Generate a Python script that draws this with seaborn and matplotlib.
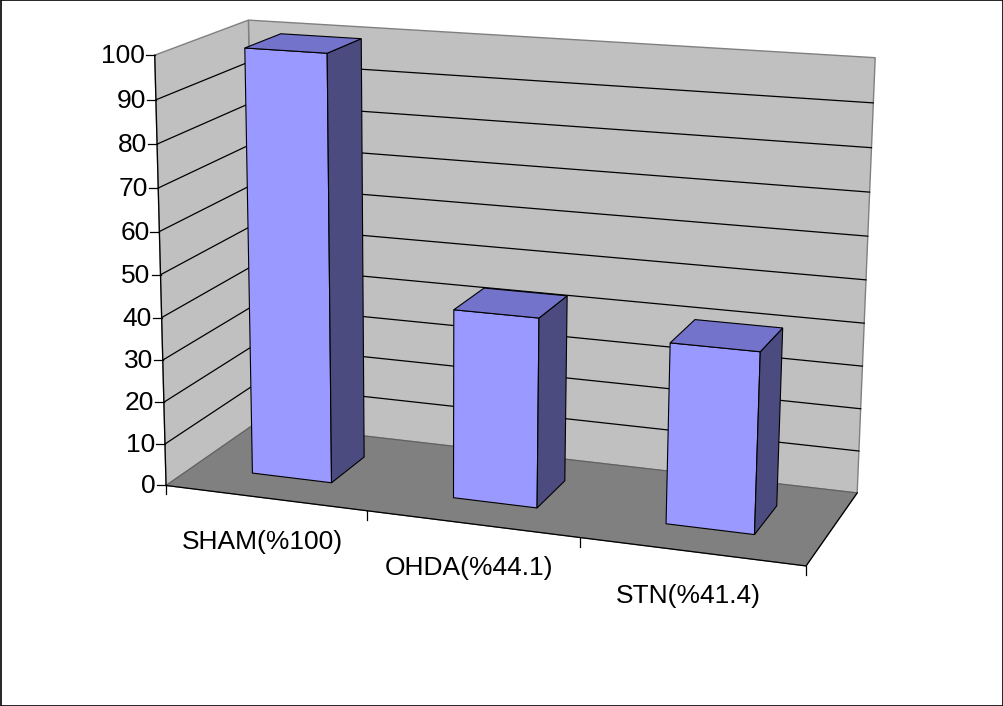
import numpy as np
import pandas as pd
import matplotlib
matplotlib.use("Agg")
import matplotlib.pyplot as plt
import seaborn as sns
from matplotlib.transforms import Transform
from matplotlib.patches import Polygon, Rectangle
from matplotlib.lines import Line2D

# ---------------- data ----------------
categories = ["SHAM(%100)", "OHDA(%44.1)", "STN(%41.4)"]
values = [100, 44.1, 41.4]
yticks = [0, 10, 20, 30, 40, 50, 60, 70, 80, 90, 100]

# ---------------- style ----------------
FRONT = "#9999FF"
SIDE = "#4B4B80"
TOP = "#7373CC"
WALL = "#C0C0C0"
FLOOR = "#808080"
FONT = "Liberation Sans"
FS = 19

# ---------------- camera (3D frame anchors -> pixels) ----------------
# world: X = category axis (-0.5 .. 2.5), Y = value (0..100), Z = depth (0 front .. 1 back)
frame_world = np.array([[-0.5, 0, 0], [2.5, 0, 0], [2.5, 0, 1], [-0.5, 0, 1],
                        [-0.5, 100, 0], [-0.5, 100, 1], [2.5, 100, 1]], float)
frame_pix = np.array([[169.3, 484], [805.7, 567.7], [858, 491], [252, 425],
                      [151.7, 55], [251.7, 20], [874.7, 58]], float)


def fit_camera(W, U):
    rows = []
    for (X, Y, Z), (u, v) in zip(W, U / 1000.0):
        Y = Y / 100.0
        rows.append([X, Y, Z, 1, 0, 0, 0, 0, -u * X, -u * Y, -u * Z, -u])
        rows.append([0, 0, 0, 0, X, Y, Z, 1, -v * X, -v * Y, -v * Z, -v])
    _, _, vt = np.linalg.svd(np.array(rows))
    return vt[-1].reshape(3, 4)


P = fit_camera(frame_world, frame_pix)


def project(X, Y, Z):
    X, Y, Z = np.broadcast_arrays(np.asarray(X, float), np.asarray(Y, float) / 100.0,
                                  np.asarray(Z, float))
    h = P @ np.vstack([X.ravel(), Y.ravel(), Z.ravel(), np.ones(X.size)])
    u = (h[0] / h[2] * 1000).reshape(X.shape)
    v = (h[1] / h[2] * 1000).reshape(X.shape)
    return u, v


def proj_pts(pts):
    pts = np.asarray(pts, float)
    u, v = project(pts[:, 0], pts[:, 1], pts[:, 2])
    return np.column_stack([u, v])


class PlaneTransform(Transform):
    """Maps (category x, value) on the depth plane z into the perspective view."""
    input_dims = 2
    output_dims = 2
    is_separable = False
    has_inverse = False

    def __init__(self, z):
        super().__init__()
        self.z = z

    def transform_non_affine(self, values):
        values = np.asarray(values, float)
        u, v = project(values[:, 0], values[:, 1], self.z)
        return np.column_stack([u, v])


# ---------------- figure ----------------
fig = plt.figure(figsize=(10.04, 7.06), dpi=100)
ax = fig.add_axes([0, 0, 1, 1])

df = pd.DataFrame({"group": categories, "value": values})
sns.barplot(data=df, x="group", y="value", ax=ax, width=0.4, color=FRONT,
            saturation=1, edgecolor="black", linewidth=0.8, errorbar=None, zorder=10)
bars = list(ax.patches)

ax.set_xlim(0, 1004)
ax.set_ylim(706, 0)
ax.axis("off")

X0, X1 = -0.5, len(categories) - 0.5
Y0, Y1 = yticks[0], yticks[-1]

# walls and floor
back = proj_pts([[X0, Y0, 1], [X1, Y0, 1], [X1, Y1, 1], [X0, Y1, 1]])
left = proj_pts([[X0, Y0, 0], [X0, Y0, 1], [X0, Y1, 1], [X0, Y1, 0]])
floor = proj_pts([[X0, Y0, 0], [X1, Y0, 0], [X1, Y0, 1], [X0, Y0, 1]])
ax.add_patch(Polygon(back, closed=True, fc=WALL, ec="#808080", lw=1, zorder=1))
ax.add_patch(Polygon(left, closed=True, fc=WALL, ec="#808080", lw=1, zorder=1))
ax.add_patch(Polygon(floor, closed=True, fc=FLOOR, ec="#606060", lw=0.8, zorder=2))

# gridlines
for t in yticks[1:-1]:
    g = proj_pts([[X0, t, 0], [X0, t, 1], [X1, t, 1]])
    ax.add_line(Line2D(g[:, 0], g[:, 1], color="black", lw=0.9, zorder=3))

# axis edges
e = proj_pts([[X0, Y0, 0], [X0, Y1, 0]])
ax.add_line(Line2D(e[:, 0], e[:, 1], color="black", lw=0.9, zorder=4))
e = proj_pts([[X0, Y0, 0], [X1, Y0, 0], [X1, Y0, 1]])
ax.add_line(Line2D(e[:, 0], e[:, 1], color="black", lw=0.9, zorder=4))

# value ticks + labels
for t in yticks:
    (u, v), = proj_pts([[X0, t, 0]])
    ax.add_line(Line2D([u - 9, u], [v, v], color="black", lw=0.9, zorder=4))
    ax.text(u - 10, v + 1, str(t), ha="right", va="center", fontsize=FS, family=FONT)

# category ticks
for b in np.arange(X0, X1 + 0.01, 1.0):
    (u, v), = proj_pts([[b, Y0, 0]])
    ax.add_line(Line2D([u, u], [v, v + 9], color="black", lw=0.9, zorder=4))

# category labels
for i, name in enumerate(categories):
    (u, v), = proj_pts([[i, Y0, 0]])
    ax.text(u - 3, v + 44, name, ha="center", va="center", fontsize=FS, family=FONT)

# 3D bars: seaborn front faces projected, plus side and top faces
ZF, ZB = 0.3, 0.7
for p in bars:
    x0, w, h = p.get_x(), p.get_width(), p.get_height()
    p.set_transform(PlaneTransform(ZF) + ax.transData)
    p.set_clip_on(False)
    side = proj_pts([[x0 + w, 0, ZF], [x0 + w, 0, ZB], [x0 + w, h, ZB], [x0 + w, h, ZF]])
    top = proj_pts([[x0, h, ZF], [x0 + w, h, ZF], [x0 + w, h, ZB], [x0, h, ZB]])
    ax.add_patch(Polygon(side, closed=True, fc=SIDE, ec="black", lw=0.8, zorder=10))
    ax.add_patch(Polygon(top, closed=True, fc=TOP, ec="black", lw=0.8, zorder=10))

# chart border
fig.patches.append(Rectangle((0.0005, 0.0007), 0.999, 0.9986, transform=fig.transFigure,
                             fill=False, ec="black", lw=1.2))

fig.savefig("out.png", dpi=100)
